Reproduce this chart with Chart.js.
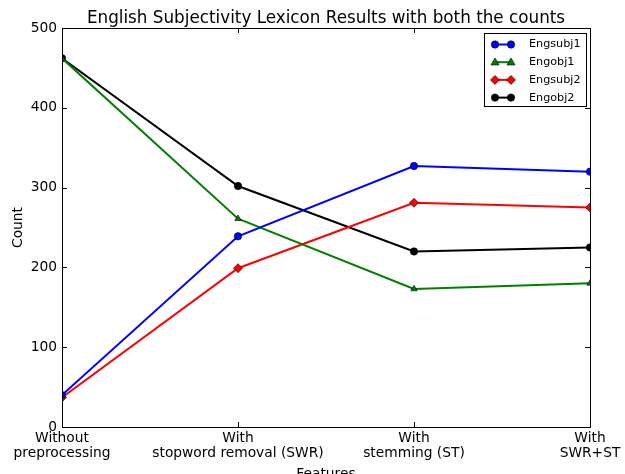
<!DOCTYPE html>
<html>
<head>
<meta charset="utf-8">
<script src="https://cdn.jsdelivr.net/npm/chart.js@4.4.1/dist/chart.umd.min.js"></script>
<style>
  html, body { margin: 0; padding: 0; background: #ffffff; }
  #wrap { width: 625px; height: 474px; position: relative; }
</style>
</head>
<body>
<div id="wrap"><canvas id="c" width="625" height="474"></canvas></div>
<script>
// Feature settings along the x axis
const categories = [
  ['Without', 'preprocessing'],
  ['With', 'stopword removal (SWR)'],
  ['With', 'stemming (ST)'],
  ['With', 'SWR+ST']
];

// Counts per lexicon run
const engsubj1 = [40, 239, 327, 320];
const engobj1  = [462, 261, 173, 180];
const engsubj2 = [37, 199, 281, 275];
const engobj2  = [462, 302, 220, 225];

// Y axis ticks
const yTicks = [0, 100, 200, 300, 400, 500];

const chartTitle = 'English Subjectivity Lexicon Results with both the counts';
const xTitle = 'Features';
const yTitle = 'Count';

const FONT = '"DejaVu Sans", sans-serif';

function series(label, data, color, style) {
  return {
    label, data,
    borderColor: color,
    backgroundColor: color,
    borderWidth: 2,
    pointStyle: style,
    pointRadius: style === 'rectRot' ? 4.5 : 3.7,
    pointBackgroundColor: color,
    pointBorderColor: '#000000',
    pointBorderWidth: 0.6,
    tension: 0,
    clip: 0
  };
}

function drawMarker(ctx, style, x, y, r) {
  if (style === 'circle') {
    ctx.arc(x, y, r, 0, Math.PI * 2);
  } else if (style === 'triangle') {
    ctx.moveTo(x, y - r * 1.15);
    ctx.lineTo(x + r * 1.1, y + r * 0.75);
    ctx.lineTo(x - r * 1.1, y + r * 0.75);
    ctx.closePath();
  } else {
    ctx.moveTo(x, y - r); ctx.lineTo(x + r, y); ctx.lineTo(x, y + r); ctx.lineTo(x - r, y);
    ctx.closePath();
  }
}

// Frame, inward tick marks, titles and the legend box
const decor = {
  id: 'decor',
  afterDatasetsDraw(chart) {
    const ctx = chart.ctx;
    const a = chart.chartArea;
    const xs = chart.scales.x, ys = chart.scales.y;
    ctx.save();
    ctx.strokeStyle = '#000000';
    ctx.lineWidth = 1;
    ctx.strokeRect(Math.round(a.left) + 0.5, Math.round(a.top) + 0.5,
                   Math.round(a.right - a.left), Math.round(a.bottom - a.top));
    const tl = 5;
    ctx.beginPath();
    yTicks.forEach(v => {
      const y = Math.round(ys.getPixelForValue(v)) + 0.5;
      ctx.moveTo(a.left, y); ctx.lineTo(a.left + tl, y);
      ctx.moveTo(a.right, y); ctx.lineTo(a.right - tl, y);
    });
    categories.forEach((c, i) => {
      const x = Math.round(xs.getPixelForValue(i)) + 0.5;
      ctx.moveTo(x, a.bottom); ctx.lineTo(x, a.bottom - tl);
      ctx.moveTo(x, a.top); ctx.lineTo(x, a.top + tl);
    });
    ctx.stroke();

    // titles
    ctx.fillStyle = '#000000';
    ctx.textAlign = 'center';
    ctx.textBaseline = 'alphabetic';
    ctx.font = '16.8px ' + FONT;
    ctx.fillText(chartTitle, (a.left + a.right) / 2, 23);
    ctx.font = '13.8px ' + FONT;
    ctx.fillText(xTitle, (a.left + a.right) / 2, 478);
    ctx.save();
    ctx.translate(22, (a.top + a.bottom) / 2);
    ctx.rotate(-Math.PI / 2);
    ctx.fillText(yTitle, 0, 0);
    ctx.restore();

    // legend
    const bx = 484.5, by = 33.5, bw = 102, bh = 73;
    ctx.fillStyle = '#ffffff';
    ctx.fillRect(bx, by, bw, bh);
    ctx.strokeStyle = '#000000';
    ctx.lineWidth = 1;
    ctx.strokeRect(bx, by, bw, bh);
    ctx.font = '11.2px ' + FONT;
    ctx.textAlign = 'left';
    ctx.textBaseline = 'middle';
    chart.data.datasets.forEach((ds, i) => {
      const y = 44.5 + i * 17.7;
      const x1 = 495, x2 = 511;
      ctx.strokeStyle = ds.borderColor;
      ctx.lineWidth = 2;
      ctx.beginPath(); ctx.moveTo(x1, y); ctx.lineTo(x2, y); ctx.stroke();
      [x1, x2].forEach(x => {
        ctx.fillStyle = ds.pointBackgroundColor;
        ctx.strokeStyle = ds.pointBorderColor;
        ctx.lineWidth = ds.pointBorderWidth;
        ctx.beginPath();
        drawMarker(ctx, ds.pointStyle, x, y, ds.pointRadius);
        ctx.fill(); ctx.stroke();
      });
      ctx.fillStyle = '#000000';
      ctx.fillText(ds.label, 529, y);
    });
    ctx.restore();
  }
};

new Chart(document.getElementById('c'), {
  type: 'line',
  data: {
    labels: categories,
    datasets: [
      series('Engsubj1', engsubj1, '#0000ff', 'circle'),
      series('Engobj1', engobj1, '#008000', 'triangle'),
      series('Engsubj2', engsubj2, '#ff0000', 'rectRot'),
      series('Engobj2', engobj2, '#000000', 'circle')
    ]
  },
  options: {
    responsive: false,
    animation: false,
    devicePixelRatio: 1,
    layout: { padding: { top: 28, right: 35, left: 0, bottom: 0 } },
    plugins: {
      legend: { display: false },
      title: { display: false },
      tooltip: { enabled: false }
    },
    scales: {
      x: {
        type: 'category',
        offset: false,
        grid: { display: false, drawTicks: false },
        border: { display: false },
        ticks: {
          color: '#000000',
          font: { family: FONT, size: 13.8, lineHeight: 1.15 },
          padding: 3,
          maxRotation: 0,
          autoSkip: false
        },
        afterFit(s) { s.height = 47; }
      },
      y: {
        min: 0, max: 500,
        afterBuildTicks(s) { s.ticks = yTicks.map(v => ({ value: v })); },
        grid: { display: false, drawTicks: false },
        border: { display: false },
        ticks: {
          color: '#000000',
          font: { family: FONT, size: 13.8 },
          padding: 5
        },
        afterFit(s) { s.width = 62; }
      }
    }
  },
  plugins: [decor]
});
</script>
</body>
</html>
